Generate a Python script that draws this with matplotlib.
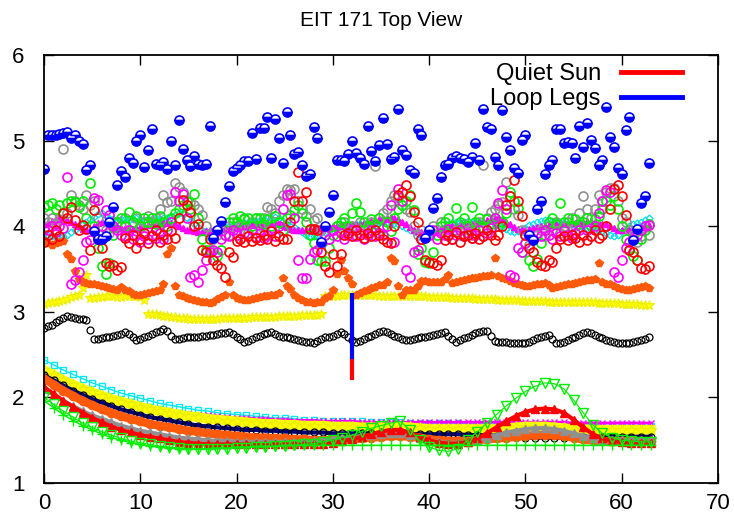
import numpy as np
import matplotlib
matplotlib.use("Agg")
import matplotlib.pyplot as plt
from matplotlib.lines import Line2D

plt.rcParams['font.family'] = ['Liberation Sans', 'DejaVu Sans']

# ---------------- text / ticks ----------------
title = "EIT 171 Top View"
legend_labels = ["Quiet Sun", "Loop Legs"]
xticks = [0, 10, 20, 30, 40, 50, 60, 70]
yticks = [1, 2, 3, 4, 5, 6]

upper_step = 0.4   # spacing of the scattered series
lower_step = 1.0   # spacing of the smooth lower series

# ---------------- upper scattered series ----------------
loop_legs = [4.67, 5.06, 5.07, 5.07, 5.08, 5.09, 5.10, 5.03, 5.07, 4.99,
             4.96, 4.66, 4.72, 3.94, 3.85, 3.85, 3.88, 4.05, 4.22, 4.48,
             4.64, 4.57, 4.80, 4.74, 5.00, 5.06, 4.69, 4.89, 5.13, 4.73,
             4.71, 4.75, 4.67, 5.00, 4.71, 5.24, 4.90, 4.77, 4.70, 4.82,
             4.73, 4.72, 4.73, 5.17, 3.86, 3.95, 4.06, 4.28, 4.47, 4.65,
             4.68, 4.72, 4.76, 4.76, 5.09, 4.79, 5.15, 5.15, 5.28, 4.80,
             5.25, 5.03, 4.74, 5.33, 5.07, 4.84, 4.87, 4.71, 4.59, 4.61,
             5.16, 5.03, 3.81, 4.00, 4.17, 4.36, 4.77, 4.77, 4.76, 4.84,
             4.99, 4.86, 4.80, 4.73, 5.17, 4.88, 4.76, 4.95, 5.26, 4.96,
             4.79, 4.81, 5.37, 4.89, 4.83, 4.66, 4.62, 5.14, 5.07, 3.86,
             3.96, 4.21, 4.33, 4.58, 4.72, 4.73, 4.80, 4.82, 4.80, 4.79,
             4.75, 4.81, 4.97, 4.77, 5.37, 5.16, 5.14, 4.81, 4.72, 5.36,
             5.04, 4.89, 4.68, 4.62, 5.01, 5.07, 3.90, 3.84, 4.20, 4.29,
             4.61, 4.71, 4.77, 5.14, 5.14, 4.97, 4.98, 4.97, 4.80, 5.17,
             4.93, 5.20, 5.01, 4.91, 4.71, 4.77, 5.39, 5.04, 4.93, 4.68,
             4.61, 5.12, 5.27, 3.84, 3.97, 4.27, 4.35, 4.74]

red_circ = [3.82, 3.90, 3.85, 3.95, 3.88, 4.15, 4.10, 4.23, 4.07, 3.95,
            4.01, 3.97, 3.72, 4.19, 3.85, 3.75, 3.57, 3.53, 3.55, 3.49,
            3.52, 3.86, 3.80, 3.90, 3.74, 3.85, 3.92, 3.80, 3.88, 3.95,
            3.82, 3.90, 3.85, 3.94, 3.86, 4.10, 4.31, 4.25, 4.17, 4.00,
            4.03, 3.72, 3.70, 3.85, 3.60, 3.55, 3.51, 3.41, 3.70, 3.64,
            3.83, 3.85, 3.82, 3.88, 3.83, 3.86, 3.84, 3.90, 3.85, 3.94,
            3.83, 3.88, 3.85, 3.85, 4.05, 4.29, 4.63, 4.29, 4.40, 3.97,
            3.97, 3.95, 3.70, 3.53, 3.47, 3.68, 3.53, 3.67, 3.90, 3.92,
            3.88, 3.95, 3.90, 3.86, 3.92, 3.88, 3.95, 3.90, 3.85, 3.82,
            3.80, 4.00, 4.36, 4.40, 4.48, 4.35, 4.17, 4.05, 3.85, 3.60,
            3.58, 3.57, 3.55, 3.60, 3.84, 3.90, 3.85, 3.93, 3.82, 3.88,
            3.90, 3.86, 3.92, 3.85, 3.88, 3.95, 3.90, 3.84, 3.90, 4.00,
            4.25, 4.35, 4.54, 4.30, 4.12, 3.90, 3.75, 3.70, 3.58, 3.55,
            3.53, 3.60, 3.58, 3.75, 3.85, 3.88, 3.84, 3.90, 3.86, 3.82,
            3.90, 3.84, 3.88, 3.95, 3.86, 3.90, 4.00, 4.20, 4.43, 4.48,
            4.35, 4.13, 3.72, 3.70, 3.60, 3.51, 3.50, 3.54]

green_circ = [4.22, 4.25, 4.27, 4.20, 4.25, 4.15, 4.27, 4.30, 4.28, 4.22,
              4.29, 4.10, 4.50, 4.00, 3.74, 3.54, 3.44, 3.57, 3.90, 4.05,
              4.10, 4.00, 4.17, 4.05, 4.12, 4.00, 4.10, 4.05, 4.10, 4.02,
              4.12, 4.05, 4.00, 4.10, 4.15, 4.20, 4.25, 4.30, 4.20, 4.38,
              4.10, 3.85, 3.72, 3.72, 3.60, 3.65, 3.72, 3.90, 4.05, 4.10,
              4.05, 4.12, 4.08, 4.10, 4.00, 4.10, 4.10, 4.02, 4.08, 4.00,
              4.12, 4.05, 3.96, 4.10, 4.13, 4.19, 4.25, 4.15, 4.05, 3.90,
              3.80, 3.60, 3.59, 3.59, 3.75, 3.90, 4.00, 4.05, 4.10, 4.00,
              4.15, 4.27, 4.17, 4.05, 4.00, 4.08, 4.02, 4.10, 3.98, 4.05,
              3.94, 4.10, 4.20, 4.25, 4.30, 4.36, 4.19, 3.68, 3.75, 3.58,
              3.57, 3.70, 3.90, 4.00, 4.05, 4.10, 4.00, 4.21, 4.05, 4.10,
              4.00, 4.23, 4.05, 4.10, 3.98, 4.08, 4.02, 4.10, 4.00, 4.05,
              4.15, 4.40, 4.30, 4.21, 3.70, 3.80, 3.60, 3.53, 3.62, 3.80,
              3.95, 4.05, 4.10, 4.02, 4.27, 4.05, 4.10, 4.00, 4.08, 4.02,
              4.05, 4.10, 4.00, 4.08, 4.12, 4.20, 4.30, 4.25, 4.35, 4.20,
              4.00, 3.85, 3.72, 3.65, 3.60, 3.85, 3.95, 4.03]

magenta_circ = [3.97, 3.95, 4.00, 3.93, 4.00, 3.98, 4.58, 3.33, 3.37, 3.47,
                3.60, 3.82, 3.84, 4.33, 4.31, 4.00, 4.19, 4.13, 4.00, 3.95,
                3.90, 3.88, 3.95, 3.85, 3.90, 3.82, 3.88, 3.85, 3.90, 3.86,
                3.92, 3.85, 3.95, 4.05, 4.40, 4.30, 4.38, 4.10, 3.41, 3.43,
                3.35, 3.49, 3.60, 3.70, 3.72, 3.70, 3.85, 3.90, 3.88, 3.95,
                3.90, 3.85, 3.92, 3.88, 3.95, 3.87, 3.92, 3.86, 3.90, 3.95,
                3.88, 4.00, 4.20, 4.36, 4.38, 4.10, 3.60, 3.40, 3.40, 3.62,
                3.70, 3.72, 3.80, 3.90, 3.85, 3.95, 3.88, 3.92, 3.85, 3.90,
                3.95, 3.88, 3.92, 3.85, 3.90, 3.95, 3.88, 3.92, 3.90, 4.00,
                4.25, 3.82, 4.44, 4.30, 3.49, 3.41, 3.70, 3.72, 3.85, 3.88,
                3.90, 3.95, 3.85, 3.92, 3.90, 3.97, 3.85, 3.90, 3.95, 3.88,
                3.92, 3.86, 3.90, 3.95, 3.88, 3.92, 3.98, 4.10, 4.27, 4.42,
                4.20, 3.43, 3.41, 3.74, 3.70, 3.80, 3.88, 3.85, 3.92, 3.88,
                3.95, 3.90, 3.85, 3.92, 3.88, 3.95, 3.90, 3.86, 3.92, 3.95,
                3.90, 3.95, 3.88, 4.00, 4.15, 4.30, 4.42, 4.40, 3.47, 3.41,
                3.60, 3.75, 3.82, 3.85, 3.90, 3.95, 4.00, 4.01]

gray_circ = [4.09, 4.05, 4.10, 4.02, 4.08, 4.90, 4.15, 4.36, 4.30, 4.25,
             4.20, 4.36, 4.25, 4.30, 4.10, 4.00, 3.95, 3.92, 3.98, 4.05,
             4.00, 4.10, 3.95, 4.05, 4.10, 3.98, 4.05, 4.12, 4.05, 4.10,
             4.20, 4.36, 4.28, 4.30, 4.51, 4.46, 4.40, 4.30, 4.28, 4.25,
             4.20, 4.13, 4.00, 3.90, 3.85, 3.90, 3.95, 4.00, 3.90, 4.05,
             3.95, 4.00, 4.10, 3.92, 4.05, 4.10, 4.00, 4.10, 4.22, 4.20,
             4.15, 4.30, 4.36, 4.43, 4.42, 4.44, 4.30, 4.20, 4.12, 4.20,
             4.07, 4.09, 3.95, 3.90, 3.85, 3.95, 4.00, 3.92, 4.05, 3.95,
             4.00, 3.90, 4.05, 3.95, 4.00, 4.05, 4.70, 4.10, 4.15, 4.20,
             4.30, 4.36, 4.34, 4.25, 4.20, 4.17, 4.00, 3.90, 3.95, 3.88,
             3.90, 4.00, 3.95, 4.05, 3.92, 3.88, 4.00, 3.95, 3.90, 4.02,
             3.95, 3.90, 3.95, 4.05, 4.71, 4.10, 4.17, 4.20, 4.25, 4.28,
             4.52, 4.35, 4.20, 4.13, 3.95, 3.90, 3.78, 3.85, 3.90, 3.95,
             3.88, 4.00, 3.95, 4.05, 3.92, 4.00, 4.05, 4.10, 4.00, 4.15,
             4.35, 4.20, 4.10, 4.20, 4.36, 4.30, 4.40, 4.45, 4.45, 4.30,
             4.10, 4.05, 3.95, 3.90, 3.82, 3.88, 3.95, 3.90]

cyan_diam = [3.92, 3.90, 3.88, 3.87, 3.88, 3.88, 3.90, 3.93, 3.96, 3.99,
             4.02, 4.05, 4.08, 4.11, 4.14, 4.15, 4.12, 4.10, 4.08, 4.07,
             4.08, 4.08, 4.07, 4.08, 4.09, 4.08, 4.07, 4.08, 4.08, 4.09,
             4.08, 4.09, 4.10, 4.11, 4.13, 4.15, 4.14, 4.10, 4.06, 4.03,
             3.99, 3.96, 3.94, 3.92, 3.92, 3.93, 3.96, 3.99, 4.00, 4.01,
             4.02, 4.03, 4.04, 4.05, 4.06, 4.06, 4.07, 4.08, 4.09, 4.10,
             4.11, 4.09, 4.06, 4.03, 4.00, 3.99, 3.96, 3.93, 3.90, 3.89,
             3.88, 3.90, 3.92, 3.93, 3.95, 3.96, 3.98, 4.00, 4.00, 4.01,
             4.01, 4.02, 4.02, 4.03, 4.03, 4.03, 4.04, 4.04, 4.05, 4.05,
             4.05, 4.04, 4.02, 4.00, 3.98, 3.96, 3.94, 3.91, 3.89, 3.88,
             3.90, 3.92, 3.94, 3.96, 3.99, 4.02, 4.04, 4.05, 4.05, 4.05,
             4.06, 4.05, 4.05, 4.05, 4.04, 4.04, 4.03, 4.02, 4.01, 4.00,
             3.97, 3.94, 3.93, 3.94, 3.96, 3.98, 4.01, 4.03, 4.05, 4.06,
             4.07, 4.07, 4.06, 4.06, 4.05, 4.04, 4.03, 4.02, 4.01, 4.00,
             3.99, 3.98, 3.97, 3.96, 3.96, 3.94, 3.92, 3.90, 3.89, 3.90,
             3.94, 3.97, 4.00, 4.02, 4.04, 4.05, 4.07, 4.09]

magenta_tri = [4.02, 4.04, 4.06, 4.08, 4.09, 4.08, 4.07, 4.05, 4.03, 4.00,
               3.97, 3.96, 3.97, 4.00, 4.04, 4.05, 4.04, 4.02, 4.00, 3.99,
               3.98, 3.98, 3.97, 3.97, 3.98, 3.99, 4.00, 4.01, 4.02, 4.03,
               4.04, 4.05, 4.05, 4.04, 4.02, 4.00, 3.98, 3.96, 3.95, 3.94,
               3.93, 3.93, 3.94, 3.95, 3.96, 3.97, 3.97, 3.98, 3.98, 3.99,
               3.99, 4.00, 4.00, 4.01, 4.01, 4.02, 4.02, 4.03, 4.03, 4.04,
               4.04, 4.03, 4.01, 3.99, 3.97, 3.96, 3.95, 3.95, 3.96, 3.97,
               3.97, 3.98, 3.98, 3.99, 3.99, 4.00, 4.00, 4.01, 4.01, 4.02,
               4.02, 4.03, 4.03, 4.04, 4.05, 4.06, 4.07, 4.08, 4.09, 4.10,
               4.11, 4.10, 4.08, 4.05, 4.02, 3.99, 3.96, 3.94, 3.93, 3.93,
               3.94, 3.95, 3.96, 3.97, 3.98, 3.99, 4.00, 4.00, 4.01, 4.01,
               4.02, 4.03, 4.04, 4.05, 4.06, 4.07, 4.08, 4.09, 4.09, 4.08,
               4.05, 4.02, 3.99, 3.97, 3.96, 3.96, 3.97, 3.98, 3.99, 4.00,
               4.00, 4.01, 4.01, 4.02, 4.02, 4.03, 4.03, 4.04, 4.04, 4.05,
               4.05, 4.06, 4.06, 4.05, 4.04, 4.03, 4.02, 4.00, 3.98, 3.96,
               3.95, 3.95, 3.96, 3.97, 3.98, 3.99, 4.00, 4.01]

orange_pent = [3.83, 3.80, 3.78, 3.80, 3.82, 3.83, 3.68, 3.62, 3.48, 3.38,
               3.35, 3.34, 3.33, 3.32, 3.31, 3.30, 3.29, 3.28, 3.27, 3.26,
               3.29, 3.25, 3.24, 3.21, 3.20, 3.20, 3.21, 3.22, 3.23, 3.24,
               3.25, 3.32, 3.67, 3.75, 3.30, 3.20, 3.18, 3.16, 3.15, 3.14,
               3.13, 3.12, 3.11, 3.10, 3.12, 3.15, 3.17, 3.20, 3.35, 3.20,
               3.16, 3.15, 3.14, 3.14, 3.15, 3.16, 3.17, 3.18, 3.19, 3.20,
               3.20, 3.22, 3.40, 3.30, 3.27, 3.20, 3.16, 3.14, 3.12, 3.11,
               3.10, 3.11, 3.12, 3.16, 3.18, 3.25, 3.44, 3.60, 3.48, 3.39,
               3.33, 3.20, 3.22, 3.24, 3.26, 3.28, 3.29, 3.31, 3.31, 3.35,
               3.63, 3.59, 3.30, 3.20, 3.25, 3.25, 3.26, 3.30, 3.36, 3.36,
               3.35, 3.35, 3.35, 3.35, 3.38, 3.43, 3.34, 3.35, 3.36, 3.37,
               3.38, 3.39, 3.40, 3.41, 3.42, 3.42, 3.43, 3.63, 3.42, 3.40,
               3.38, 3.36, 3.34, 3.32, 3.31, 3.30, 3.30, 3.31, 3.32, 3.33,
               3.34, 3.31, 3.28, 3.29, 3.30, 3.31, 3.32, 3.33, 3.34, 3.35,
               3.36, 3.37, 3.37, 3.38, 3.57, 3.35, 3.33, 3.32, 3.30, 3.28,
               3.27, 3.26, 3.26, 3.27, 3.28, 3.29, 3.30, 3.28]

yellow_star = [3.09, 3.10, 3.11, 3.12, 3.13, 3.14, 3.15, 3.17, 3.19, 3.20,
               3.28, 3.43, 3.16, 3.16, 3.17, 3.17, 3.18, 3.18, 3.18, 3.17,
               3.17, 3.18, 3.18, 3.19, 3.18, 3.17, 3.14, 2.98, 2.97, 2.97,
               2.96, 2.95, 2.95, 2.94, 2.94, 2.93, 2.93, 2.93, 2.92, 2.92,
               2.92, 2.92, 2.92, 2.92, 2.92, 2.92, 2.93, 2.93, 2.93, 2.93,
               2.93, 2.93, 2.93, 2.93, 2.94, 2.94, 2.94, 2.94, 2.94, 2.94,
               2.94, 2.95, 2.95, 2.95, 2.95, 2.95, 2.95, 2.96, 2.96, 2.96,
               2.96, 2.96, 2.97, 3.18, 3.18, 3.19, 3.19, 3.20, 3.20, 3.20,
               3.20, 3.20, 3.20, 3.20, 3.20, 3.20, 3.20, 3.19, 3.19, 3.19,
               3.19, 3.19, 3.19, 3.19, 3.18, 3.18, 3.18, 3.18, 3.18, 3.18,
               3.17, 3.17, 3.17, 3.17, 3.17, 3.17, 3.16, 3.16, 3.16, 3.16,
               3.16, 3.16, 3.15, 3.15, 3.15, 3.15, 3.15, 3.15, 3.14, 3.14,
               3.14, 3.14, 3.14, 3.14, 3.13, 3.13, 3.13, 3.13, 3.13, 3.13,
               3.13, 3.12, 3.12, 3.12, 3.12, 3.12, 3.12, 3.12, 3.11, 3.11,
               3.11, 3.11, 3.11, 3.11, 3.10, 3.10, 3.10, 3.10, 3.10, 3.10,
               3.09, 3.09, 3.09, 3.09, 3.09, 3.08, 3.08, 3.08]

black_circ = [2.81, 2.83, 2.85, 2.88, 2.90, 2.93, 2.95, 2.94, 2.93, 2.92,
              2.92, 2.91, 2.79, 2.68, 2.68, 2.69, 2.70, 2.71, 2.72, 2.73,
              2.74, 2.76, 2.74, 2.70, 2.67, 2.68, 2.70, 2.72, 2.74, 2.76,
              2.78, 2.80, 2.77, 2.72, 2.68, 2.68, 2.69, 2.70, 2.71, 2.71,
              2.71, 2.72, 2.72, 2.73, 2.73, 2.74, 2.75, 2.75, 2.76, 2.74,
              2.71, 2.68, 2.65, 2.66, 2.68, 2.70, 2.72, 2.74, 2.75, 2.76,
              2.74, 2.72, 2.71, 2.70, 2.69, 2.68, 2.67, 2.66, 2.65, 2.65,
              2.64, 2.66, 2.68, 2.70, 2.71, 2.72, 2.74, 2.76, 2.74, 2.70,
              2.67, 2.65, 2.66, 2.68, 2.70, 2.72, 2.74, 2.76, 2.78, 2.76,
              2.74, 2.72, 2.70, 2.68, 2.67, 2.67, 2.68, 2.69, 2.70, 2.71,
              2.72, 2.73, 2.74, 2.75, 2.76, 2.72, 2.68, 2.65, 2.67, 2.69,
              2.71, 2.73, 2.75, 2.76, 2.77, 2.77, 2.72, 2.66, 2.65, 2.65,
              2.65, 2.64, 2.64, 2.64, 2.63, 2.63, 2.65, 2.67, 2.69, 2.71,
              2.72, 2.73, 2.68, 2.64, 2.63, 2.65, 2.67, 2.69, 2.71, 2.73,
              2.75, 2.76, 2.75, 2.73, 2.71, 2.69, 2.67, 2.66, 2.65, 2.64,
              2.63, 2.63, 2.64, 2.65, 2.66, 2.67, 2.68, 2.70]

# ---------------- lower smooth series ----------------
cyan_sq = [2.44, 2.38, 2.32, 2.27, 2.22, 2.17, 2.13, 2.09, 2.05, 2.02,
           1.99, 1.96, 1.93, 1.91, 1.89, 1.87, 1.85, 1.84, 1.82, 1.81,
           1.80, 1.79, 1.78, 1.77, 1.76, 1.76, 1.75, 1.74, 1.74, 1.73,
           1.73, 1.72, 1.72, 1.72, 1.71, 1.71, 1.71, 1.71, 1.70, 1.70,
           1.70, 1.70, 1.70, 1.70, 1.69, 1.69, 1.69, 1.69, 1.69, 1.69,
           1.69, 1.69, 1.68, 1.68, 1.68, 1.68, 1.68, 1.68, 1.67, 1.67,
           1.67, 1.67, 1.67, 1.67]

magenta_low = [2.28, 2.22, 2.17, 2.12, 2.08, 2.04, 2.00, 1.97, 1.94, 1.92,
               1.89, 1.87, 1.85, 1.84, 1.82, 1.81, 1.80, 1.79, 1.78, 1.77,
               1.76, 1.76, 1.75, 1.75, 1.74, 1.74, 1.73, 1.73, 1.73, 1.72,
               1.72, 1.72, 1.72, 1.71, 1.71, 1.71, 1.71, 1.71, 1.71, 1.71,
               1.71, 1.71, 1.71, 1.71, 1.71, 1.71, 1.71, 1.71, 1.71, 1.71,
               1.71, 1.71, 1.71, 1.71, 1.71, 1.70, 1.70, 1.70, 1.70, 1.70,
               1.70, 1.70, 1.70, 1.70]

yellow_low = [2.32, 2.26, 2.20, 2.15, 2.10, 2.06, 2.02, 1.98, 1.95, 1.92,
              1.89, 1.86, 1.84, 1.82, 1.80, 1.78, 1.77, 1.75, 1.74, 1.73,
              1.72, 1.71, 1.70, 1.69, 1.69, 1.68, 1.68, 1.67, 1.67, 1.67,
              1.66, 1.66, 1.66, 1.65, 1.65, 1.65, 1.65, 1.66, 1.65, 1.64,
              1.63, 1.63, 1.63, 1.63, 1.63, 1.63, 1.63, 1.63, 1.64, 1.65,
              1.66, 1.66, 1.66, 1.65, 1.64, 1.63, 1.63, 1.62, 1.62, 1.62,
              1.62, 1.62, 1.62, 1.62]

navy_low = [2.26, 2.20, 2.14, 2.08, 2.03, 1.98, 1.94, 1.90, 1.86, 1.83,
            1.80, 1.77, 1.75, 1.73, 1.71, 1.69, 1.67, 1.66, 1.65, 1.64,
            1.63, 1.62, 1.62, 1.61, 1.61, 1.60, 1.60, 1.59, 1.59, 1.59,
            1.58, 1.58, 1.58, 1.58, 1.58, 1.58, 1.58, 1.58, 1.57, 1.57,
            1.57, 1.57, 1.57, 1.57, 1.56, 1.56, 1.56, 1.55, 1.54, 1.54,
            1.53, 1.53, 1.53, 1.53, 1.53, 1.54, 1.54, 1.54, 1.54, 1.54,
            1.54, 1.54, 1.54, 1.54]

orange_low = [2.22, 2.15, 2.08, 2.02, 1.96, 1.91, 1.86, 1.82, 1.78, 1.75,
              1.72, 1.69, 1.67, 1.65, 1.63, 1.61, 1.60, 1.58, 1.57, 1.56,
              1.55, 1.54, 1.53, 1.53, 1.52, 1.52, 1.51, 1.51, 1.50, 1.50,
              1.50, 1.50, 1.51, 1.52, 1.53, 1.54, 1.55, 1.55, 1.54, 1.53,
              1.51, 1.50, 1.49, 1.49, 1.49, 1.50, 1.51, 1.52, 1.53, 1.54,
              1.55, 1.56, 1.56, 1.56, 1.55, 1.53, 1.51, 1.50, 1.49, 1.49,
              1.49, 1.49, 1.49, 1.49]

gray_low = [2.10, 2.03, 1.96, 1.90, 1.84, 1.79, 1.75, 1.71, 1.67, 1.64,
            1.61, 1.59, 1.57, 1.55, 1.53, 1.52, 1.51, 1.50, 1.49, 1.49,
            1.48, 1.48, 1.48, 1.48, 1.48, 1.48, 1.48, 1.48, 1.49, 1.50,
            1.51, 1.52, 1.53, 1.55, 1.56, 1.57, 1.58, 1.58, 1.56, 1.53,
            1.50, 1.48, 1.47, 1.47, 1.48, 1.50, 1.53, 1.56, 1.59, 1.61,
            1.63, 1.64, 1.64, 1.63, 1.61, 1.58, 1.55, 1.52, 1.50, 1.50,
            1.50, 1.50, 1.50, 1.50]

red_low = [2.12, 2.04, 1.96, 1.89, 1.82, 1.76, 1.71, 1.66, 1.62, 1.59,
           1.56, 1.54, 1.52, 1.50, 1.48, 1.47, 1.46, 1.45, 1.45, 1.45,
           1.45, 1.45, 1.45, 1.45, 1.45, 1.45, 1.45, 1.45, 1.45, 1.46,
           1.47, 1.49, 1.51, 1.54, 1.57, 1.60, 1.62, 1.62, 1.59, 1.54,
           1.50, 1.47, 1.46, 1.46, 1.48, 1.52, 1.58, 1.65, 1.72, 1.78,
           1.83, 1.86, 1.87, 1.86, 1.82, 1.74, 1.65, 1.57, 1.52, 1.49,
           1.48, 1.47, 1.47, 1.47]

green_low = [2.00, 1.92, 1.84, 1.77, 1.70, 1.65, 1.60, 1.56, 1.52, 1.49,
             1.47, 1.45, 1.43, 1.42, 1.41, 1.40, 1.40, 1.40, 1.40, 1.40,
             1.41, 1.41, 1.42, 1.42, 1.43, 1.43, 1.44, 1.45, 1.46, 1.48,
             1.50, 1.53, 1.56, 1.60, 1.64, 1.67, 1.70, 1.72, 1.62, 1.50,
             1.42, 1.38, 1.37, 1.40, 1.50, 1.60, 1.70, 1.80, 1.90, 1.99,
             2.07, 2.13, 2.17, 2.16, 2.10, 1.97, 1.82, 1.68, 1.58, 1.53,
             1.50, 1.49, 1.48, 1.48]

green_plus = [1.96, 1.88, 1.80, 1.73, 1.67, 1.62, 1.57, 1.53, 1.50, 1.47,
              1.45, 1.43, 1.42, 1.41, 1.40, 1.40, 1.40, 1.40, 1.41, 1.41,
              1.42, 1.42, 1.43, 1.43, 1.43, 1.44, 1.44, 1.44, 1.44, 1.44,
              1.44, 1.44, 1.44, 1.44, 1.44, 1.44, 1.44, 1.44, 1.44, 1.44,
              1.44, 1.44, 1.44, 1.44, 1.44, 1.44, 1.44, 1.44, 1.44, 1.44,
              1.44, 1.44, 1.44, 1.44, 1.44, 1.44, 1.44, 1.44, 1.44, 1.44,
              1.44, 1.44, 1.44, 1.44]

# vertical divider (time 32): blue then red segment
divider_x = 32
divider_blue = [2.45, 3.22]
divider_red = [2.20, 2.45]

# ---------------- figure ----------------
fig = plt.figure(figsize=(7.34, 5.18), dpi=100)
ax = fig.add_axes([44 / 734, 35 / 518, 674 / 734, 428 / 518])


def xs(vals, step):
    return np.arange(len(vals)) * step


# lower group
ax.plot(xs(cyan_sq, lower_step), cyan_sq, color='#00e8f0', lw=1.0,
        marker='s', ms=5, mfc='none', mec='#00e8f0', mew=1.0)
ax.plot(xs(magenta_low, lower_step), magenta_low, color='#ff00ff', lw=2.0,
        marker='x', ms=4, mec='#ff00ff')
ax.plot(xs(yellow_low, lower_step), yellow_low, color='#ffff00', lw=7,
        marker='*', ms=8, mfc='#ffff00', mec='#eeee00')
ax.plot(xs(navy_low, lower_step), navy_low, color='#000080', lw=3,
        marker='o', ms=5, mfc='none', mec='black', mew=0.9)
ax.plot(xs(orange_low, lower_step), orange_low, color='#ff5a0a', lw=6,
        marker='o', ms=6, mfc='#ff5a0a', mec='#ff5a0a')
ax.plot(xs(gray_low, lower_step), gray_low, color='#909090', lw=3,
        marker='^', ms=6, mfc='#909090', mec='#909090')
ax.plot(xs(red_low, lower_step), red_low, color='#ff0000', lw=3,
        marker='^', ms=6, mfc='#ff0000', mec='#ff0000')
ax.plot(xs(green_low, lower_step), green_low, color='#00ee00', lw=0.8,
        marker='v', ms=7, mfc='none', mec='#00ee00', mew=1.0)
ax.plot(xs(green_plus, lower_step), green_plus, color='#00ee00', lw=1.0,
        marker='+', ms=7, mec='#00ee00', mew=1.0)

# upper group
ax.plot(xs(cyan_diam, upper_step), cyan_diam, ls='none', marker='D', ms=3.5,
        mfc='none', mec='#00e0f0', mew=0.9)
ax.plot(xs(magenta_tri, upper_step), magenta_tri, ls='none', marker='^', ms=4.5,
        mfc='#ff00ff', mec='#ff00ff')
ax.plot(xs(black_circ, upper_step), black_circ, ls='none', marker='o', ms=5,
        mfc='none', mec='black', mew=0.9)
ax.plot(xs(yellow_star, upper_step), yellow_star, ls='none', marker='*', ms=7.5,
        mfc='#ffff00', mec='#eeee00', mew=0.8)
ax.plot(xs(orange_pent, upper_step), orange_pent, ls='none', marker='p', ms=5.5,
        mfc='#ff5a0a', mec='#ff5a0a')
ax.plot(xs(gray_circ, upper_step), gray_circ, ls='none', marker='o', ms=6.5,
        mfc='none', mec='#909090', mew=1.2)
ax.plot(xs(green_circ, upper_step), green_circ, ls='none', marker='o', ms=6.5,
        mfc='none', mec='#00ee00', mew=1.2)
ax.plot(xs(magenta_circ, upper_step), magenta_circ, ls='none', marker='o', ms=6.5,
        mfc='none', mec='#ff00ff', mew=1.2)
ax.plot(xs(red_circ, upper_step), red_circ, ls='none', marker='o', ms=6.5,
        mfc='none', mec='#ff0000', mew=1.2)
ax.plot(xs(loop_legs, upper_step), loop_legs, ls='none', marker='o', ms=6.5,
        fillstyle='bottom', mfc='#0000ff', mfcalt='white', mec='#0000ff', mew=1.2)

# divider
ax.plot([divider_x, divider_x], divider_blue, color='#0000ff', lw=3, solid_capstyle='butt')
ax.plot([divider_x, divider_x], divider_red, color='#ff0000', lw=3, solid_capstyle='butt')

# axes styling
ax.set_xlim(xticks[0], xticks[-1])
ax.set_ylim(yticks[0], yticks[-1])
ax.set_xticks(xticks)
ax.set_yticks(yticks)
ax.tick_params(direction='in', length=7, width=1, top=True, right=True,
               labelsize=16)
ax.tick_params(axis='x', pad=7)
ax.tick_params(axis='y', pad=14)
for s in ax.spines.values():
    s.set_linewidth(1.3)
ax.set_title(title, fontsize=15, pad=21)

handles = [Line2D([], [], color='#ff0000', lw=3.5),
           Line2D([], [], color='#0000ff', lw=3.5)]
ax.legend(handles, legend_labels, loc='upper right', bbox_to_anchor=(0.975, 1.025),
          frameon=False, markerfirst=False, handlelength=2.6, fontsize=17,
          labelspacing=0.12, handletextpad=0.85, borderpad=0.3)

fig.savefig("out.png", dpi=100)
